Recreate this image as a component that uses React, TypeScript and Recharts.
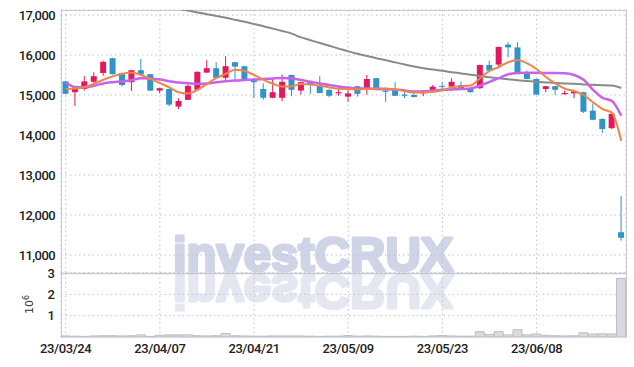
import { ComposedChart, BarChart, Bar, Line, XAxis, YAxis, CartesianGrid } from "recharts";

const dates = [
  "23/03/24", "23/03/27", "23/03/28", "23/03/29", "23/03/30", "23/03/31", "23/04/03", "23/04/04", "23/04/05", "23/04/06",
  "23/04/07", "23/04/10", "23/04/11", "23/04/12", "23/04/13", "23/04/14", "23/04/17", "23/04/18", "23/04/19", "23/04/20",
  "23/04/21", "23/04/24", "23/04/25", "23/04/26", "23/04/27", "23/04/28", "23/05/02", "23/05/03", "23/05/04", "23/05/08",
  "23/05/09", "23/05/10", "23/05/11", "23/05/12", "23/05/15", "23/05/16", "23/05/17", "23/05/18", "23/05/19", "23/05/22",
  "23/05/23", "23/05/24", "23/05/25", "23/05/26", "23/05/30", "23/05/31", "23/06/01", "23/06/02", "23/06/05", "23/06/07",
  "23/06/08", "23/06/09", "23/06/12", "23/06/13", "23/06/14", "23/06/15", "23/06/16", "23/06/19", "23/06/20", "23/06/21",
];

const opens = [
  15340, 15070, 15150, 15330, 15550, 15920, 15550, 15320, 15620, 15520,
  15110, 15150, 14710, 14880, 15130, 15560, 15670, 15430, 15820, 15720,
  15400, 15150, 14930, 14930, 15500, 15110, 15330, 15250, 15130, 15040,
  14960, 15220, 15160, 15420, 15110, 15130, 15010, 15000, 15040, 15070,
  15230, 15210, 15250, 15150, 15170, 15750, 15760, 16260, 16190, 15540,
  15400, 15150, 15220, 15020, 15040, 15070, 14610, 14400, 14170, 11570,
];
const highs = [
  15350, 15200, 15470, 15570, 15860, 15930, 15560, 15630, 15900, 15530,
  15180, 15160, 14920, 15260, 15590, 15870, 15820, 15970, 15830, 15730,
  15410, 15290, 15420, 15510, 15510, 15330, 15340, 15470, 15140, 15210,
  15220, 15230, 15500, 15430, 15190, 15320, 15070, 15050, 15120, 15250,
  15320, 15420, 15340, 15160, 15760, 15860, 16210, 16320, 16320, 15610,
  15410, 15230, 15230, 15110, 15100, 15080, 14790, 14420, 14550, 12480,
];
const lows = [
  15020, 14720, 15110, 15230, 15480, 15510, 15210, 15100, 15500, 15100,
  15040, 14720, 14650, 14870, 15120, 15550, 15420, 15360, 15380, 15370,
  14920, 14880, 14920, 14840, 14970, 15010, 15030, 15040, 14940, 14980,
  14830, 14960, 15010, 15120, 14820, 14970, 14920, 14940, 14970, 15060,
  15110, 15110, 15140, 15060, 15150, 15600, 15670, 15940, 15530, 15390,
  15000, 15070, 15000, 15010, 14920, 14550, 14370, 14050, 14150, 11360,
];
const closes = [
  15030, 15190, 15340, 15470, 15830, 15520, 15250, 15620, 15510, 15110,
  15170, 14760, 14850, 15230, 15580, 15670, 15430, 15720, 15710, 15380,
  15320, 14930, 15070, 15330, 15130, 15320, 15250, 15050, 14980, 15070,
  15040, 15030, 15400, 15130, 15080, 14980, 14980, 14950, 15110, 15210,
  15210, 15330, 15150, 15070, 15750, 15610, 16200, 16190, 15540, 15400,
  15010, 15220, 15130, 15050, 15090, 14580, 14380, 14150, 14530, 11430,
];

// moving averages (short / mid / long)
const ma5 = [
  15150, 15165, 15200, 15275, 15380, 15465, 15530, 15565, 15500, 15400,
  15300, 15190, 15070, 15040, 15130, 15280, 15420, 15530, 15630, 15600,
  15500, 15380, 15280, 15210, 15220, 15275, 15265, 15230, 15190, 15155,
  15150, 15140, 15150, 15165, 15160, 15135, 15100, 15060, 15065, 15080,
  15120, 15190, 15220, 15240, 15420, 15600, 15700, 15820, 15875, 15790,
  15650, 15450, 15290, 15160, 15100, 15000, 14820, 14650, 14560, 13850,
];
const ma20 = [
  15320, 15200, 15190, 15230, 15290, 15320, 15340, 15370, 15420, 15410,
  15385, 15345, 15310, 15295, 15280, 15285, 15320, 15345, 15360, 15375,
  15385, 15400, 15415, 15425, 15415, 15375, 15330, 15290, 15250, 15215,
  15180, 15165, 15160, 15150, 15145, 15140, 15110, 15085, 15090, 15110,
  15130, 15140, 15150, 15165, 15230, 15330, 15420, 15520, 15550, 15555,
  15555, 15550, 15550, 15545, 15500, 15380, 15130, 14930, 14850, 14480,
];
const ma120 = [
  17720, 17680, 17630, 17580, 17530, 17480, 17430, 17380, 17330, 17290,
  17245, 17200, 17155, 17110, 17065, 17020, 16975, 16930, 16880, 16830,
  16775, 16720, 16660, 16600, 16535, 16440, 16370, 16300, 16230, 16160,
  16090, 16030, 15975, 15920, 15870, 15815, 15760, 15710, 15670, 15635,
  15605, 15570, 15540, 15505, 15475, 15445, 15420, 15395, 15370, 15350,
  15330, 15315, 15300, 15290, 15280, 15265, 15255, 15245, 15235, 15175,
];

const volumes = [
  50000, 40000, 30000, 50000, 60000, 60000, 50000, 60000, 100000, 30000,
  80000, 100000, 100000, 100000, 60000, 50000, 60000, 160000, 60000, 50000,
  40000, 40000, 50000, 50000, 50000, 50000, 40000, 30000, 40000, 40000,
  70000, 40000, 50000, 40000, 30000, 30000, 30000, 40000, 30000, 50000,
  70000, 50000, 40000, 40000, 250000, 120000, 250000, 100000, 340000, 100000,
  140000, 80000, 60000, 50000, 60000, 200000, 140000, 150000, 140000, 2750000,
];

const xTickLabels = ["23/03/24", "23/04/07", "23/04/21", "23/05/09", "23/05/23", "23/06/08"];
const priceTicks = [11000, 12000, 13000, 14000, 15000, 16000, 17000];
const volumeTicks = [1000000, 2000000, 3000000];

const UP = "#e2195c";
const DOWN = "#2f95c9";
const GRID = "#bcc2da";
const BORDER = "#c9c9cf";
const tickFont = { fontFamily: "Roboto", fontSize: 13, fontWeight: 500, fill: "#222" };

const rows = dates.map((date, i) => ({
  date,
  open: opens[i],
  high: highs[i],
  low: lows[i],
  close: closes[i],
  range: [lows[i], highs[i]],
  ma5: ma5[i],
  ma20: ma20[i],
  ma120: ma120[i],
  volume: volumes[i],
}));

function Candle(props: any) {
  const { x, y, width, height, payload } = props;
  const top = Math.min(y, y + height);
  const h = Math.abs(height);
  const { open, high, low, close } = payload;
  const color = close >= open ? UP : DOWN;
  const k = h / (high - low);
  const cx = x + width / 2;
  const bTop = top + (high - Math.max(open, close)) * k;
  const bBot = top + (high - Math.min(open, close)) * k;
  return (
    <g>
      <line x1={cx} x2={cx} y1={top} y2={top + h} stroke={color} strokeWidth={1} />
      <rect x={cx - 3} y={bTop} width={6} height={Math.max(1, bBot - bTop)} fill={color} />
    </g>
  );
}

export default function App() {
  return (
    <div style={{ position: "absolute", left: 0, top: 0, width: 634, height: 367, background: "#fff" }}>
      {/* watermark + frame, behind the charts */}
      <svg width={634} height={367} style={{ position: "absolute", left: 0, top: 0 }}>
        <text x={173} y={271} fontFamily="Liberation Sans" fontWeight={700} fontSize={49}
          fill="#cfd4e7" stroke="#cfd4e7" strokeWidth={3} strokeLinejoin="round">
          investCRUX
        </text>
        <text x={173} y={271} transform="translate(0,546) scale(1,-1)" fontFamily="Liberation Sans" fontWeight={700} fontSize={49}
          fill="#e4e7f0" stroke="#e4e7f0" strokeWidth={3} strokeLinejoin="round">
          investCRUX
        </text>
        <line x1={61.5} x2={61.5} y1={10} y2={338} stroke={BORDER} />
        <line x1={626.5} x2={626.5} y1={10} y2={338} stroke={BORDER} />
        <line x1={61} x2={627} y1={10.5} y2={10.5} stroke={BORDER} />
        <line x1={61} x2={627} y1={273.5} y2={273.5} stroke={BORDER} strokeWidth={1.5} />
        <text transform="translate(33,314) rotate(-90)" fontFamily="DejaVu Sans" fontSize={11} fill="#333">
          10<tspan dy={-4} fontSize={8}>6</tspan>
        </text>
      </svg>

      <div style={{ position: "absolute", left: 0, top: 0 }}>
        <ComposedChart width={634} height={273} data={rows} margin={{ top: 10, right: 8, left: 0, bottom: 0 }} barCategoryGap={0}>
          <CartesianGrid stroke={GRID} strokeDasharray="1.5 3" />
          <XAxis dataKey="date" hide ticks={xTickLabels} />
          <YAxis
            domain={[10550, 17125]}
            allowDataOverflow
            ticks={priceTicks}
            interval={0}
            width={61}
            axisLine={false}
            tickLine={false}
            tickSize={4}
            tickMargin={2}
            tick={{ ...tickFont, letterSpacing: -0.6 }}
            tickFormatter={(v: number) => v.toLocaleString("en-US")}
          />
          <Bar dataKey="range" shape={(p: any) => <Candle {...p} />} isAnimationActive={false} />
          <Line type="monotone" dataKey="ma120" stroke="#8a8a8a" strokeWidth={2} dot={false} isAnimationActive={false} />
          <Line type="monotone" dataKey="ma20" stroke="#c862e8" strokeWidth={2.5} dot={false} isAnimationActive={false} />
          <Line type="monotone" dataKey="ma5" stroke="#ee8549" strokeWidth={2} dot={false} isAnimationActive={false} />
        </ComposedChart>
      </div>

      <div style={{ position: "absolute", left: 0, top: 263 }}>
        <BarChart width={634} height={104} data={rows} margin={{ top: 10, right: 8, left: 0, bottom: 0 }} barCategoryGap={0}>
          <CartesianGrid stroke={GRID} strokeDasharray="1.5 3" />
          <XAxis
            dataKey="date"
            ticks={xTickLabels}
            interval={0}
            height={30}
            axisLine={false}
            tickLine={false}
            tickSize={4}
            tickMargin={3}
            tick={{ ...tickFont, letterSpacing: -0.4 }}
          />
          <YAxis
            domain={[0, 3000000]}
            ticks={volumeTicks}
            interval={0}
            width={61}
            axisLine={false}
            tickLine={false}
            tickSize={4}
            tickMargin={2}
            tick={tickFont}
            tickFormatter={(v: number) => String(v / 1000000)}
          />
          <Bar dataKey="volume" fill="#d9d9df" stroke="#bdbdc5" strokeWidth={1} isAnimationActive={false} />
        </BarChart>
      </div>
    </div>
  );
}
